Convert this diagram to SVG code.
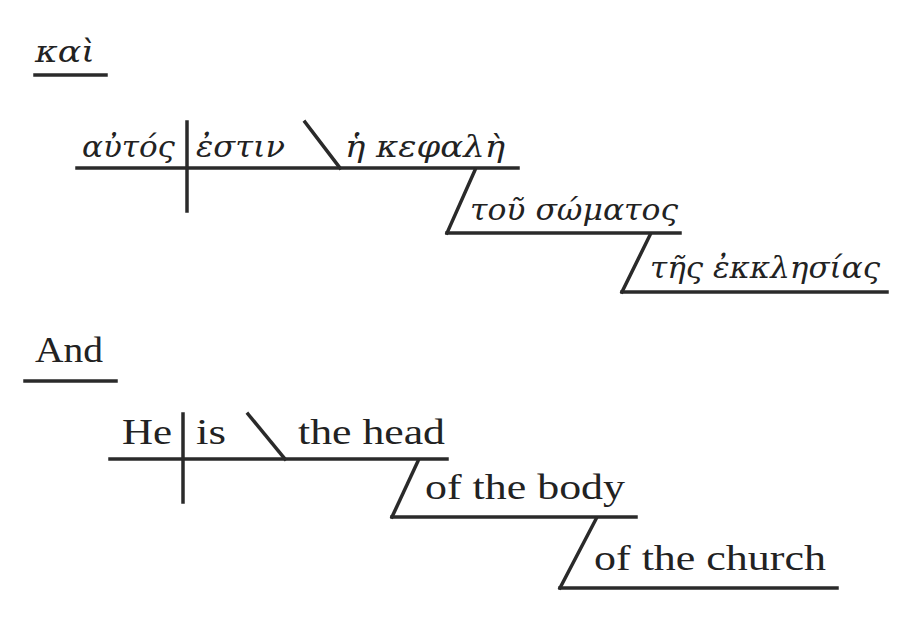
<svg xmlns="http://www.w3.org/2000/svg" width="924" height="644" viewBox="0 0 924 644">
<style>
line{stroke:#2a2a2a;stroke-width:3.5;stroke-linecap:square}
text{font-family:"Liberation Serif","DejaVu Serif",serif;font-size:36px;fill:#222}
.g{font-family:"DejaVu Serif","Liberation Serif",serif;font-size:30px;font-style:italic}
</style>
<rect width="924" height="644" fill="#fff"/>
<g id="greek">
<text class="g" x="35" y="62" textLength="60" lengthAdjust="spacingAndGlyphs">καὶ</text>
<line x1="35" y1="75" x2="106" y2="75"/>
<line x1="77" y1="168" x2="518" y2="168"/>
<line x1="187" y1="122" x2="187" y2="211"/>
<line x1="305" y1="122" x2="340" y2="168"/>
<text class="g" x="82" y="157" textLength="93" lengthAdjust="spacingAndGlyphs">αὐτός</text>
<text class="g" x="196" y="157" textLength="89" lengthAdjust="spacingAndGlyphs">ἐστιν</text>
<text class="g" x="345" y="157" textLength="160" lengthAdjust="spacingAndGlyphs">ἡ κεφαλὴ</text>
<line x1="475" y1="170" x2="447" y2="233"/>
<line x1="447" y1="233" x2="680" y2="233"/>
<text class="g" x="470" y="220" textLength="208" lengthAdjust="spacingAndGlyphs">τοῦ σώματος</text>
<line x1="650" y1="235" x2="622" y2="292"/>
<line x1="622" y1="292" x2="887" y2="292"/>
<text class="g" x="650" y="278" textLength="230" lengthAdjust="spacingAndGlyphs">τῆς ἐκκλησίας</text>
</g>
<g id="english">
<text x="35" y="362" textLength="68" lengthAdjust="spacingAndGlyphs">And</text>
<line x1="25" y1="381" x2="116" y2="381"/>
<line x1="110" y1="459" x2="447" y2="459"/>
<line x1="183" y1="414" x2="183" y2="502"/>
<line x1="248" y1="414" x2="285" y2="459"/>
<text x="122" y="444" textLength="50" lengthAdjust="spacingAndGlyphs">He</text>
<text x="196" y="444" textLength="30" lengthAdjust="spacingAndGlyphs">is</text>
<text x="298" y="444" textLength="147" lengthAdjust="spacingAndGlyphs">the head</text>
<line x1="418" y1="461" x2="392" y2="517"/>
<line x1="392" y1="517" x2="636" y2="517"/>
<text x="425" y="499" textLength="200" lengthAdjust="spacingAndGlyphs">of the body</text>
<line x1="596" y1="519" x2="560" y2="588"/>
<line x1="560" y1="588" x2="837" y2="588"/>
<text x="594" y="570" textLength="232" lengthAdjust="spacingAndGlyphs">of the church</text>
</g>
</svg>
